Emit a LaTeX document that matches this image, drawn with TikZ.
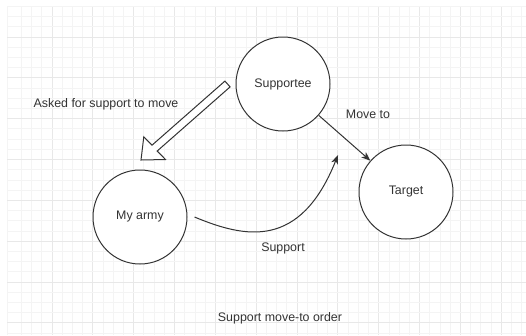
\documentclass[tikz,border=0pt]{standalone}
\usepackage{fontspec}
\setmainfont{Liberation Sans}
\usetikzlibrary{arrows.meta,calc}
\definecolor{ink}{HTML}{333333}
\definecolor{gridminor}{HTML}{F4F4F4}
\definecolor{gridmajor}{HTML}{E8E8E8}
\begin{document}
\begin{tikzpicture}[x=1pt,y=-1pt,
  every node/.style={font=\fontsize{12.4}{14}\selectfont, text=ink},
  circ/.style={draw=ink, line width=1pt, circle, minimum size=94pt, inner sep=0pt, fill=white},
  lbl/.style={inner sep=0pt},
  conn/.style={draw=ink, line width=1pt, -{Stealth[length=9pt,width=7pt,inset=2.5pt]}},
  hollow/.style={draw=ink, line width=1pt, fill=white, line join=miter}]
\useasboundingbox (0,0) rectangle (526,335);
\fill[white] (0,0) rectangle (526,335);
% grid
\foreach \k in {1,...,50}{
  \pgfmathsetmacro{\xx}{11.2+10.21*\k}
  \pgfmathtruncatemacro{\m}{mod(\k,4)}
  \ifnum\m=0 \draw[gridmajor, line width=0.9pt] (\xx,6) -- (\xx,335);
  \else \draw[gridminor, line width=0.9pt] (\xx,6) -- (\xx,335); \fi
}
\draw[gridminor, line width=0.9pt] (7,6) -- (7,335);
\foreach \k in {0,...,32}{
  \pgfmathsetmacro{\yy}{6.4+10.21*\k}
  \pgfmathtruncatemacro{\m}{mod(\k,4)}
  \ifnum\m=3 \draw[gridmajor, line width=0.9pt] (7,\yy) -- (526,\yy);
  \else \draw[gridminor, line width=0.9pt] (7,\yy) -- (526,\yy); \fi
}
% nodes
\node[circ] (sup) at (283,84) {Supportee};
\node[circ] (army) at (140,217) {My army};
\node[circ] (tgt) at (406,192) {Target};
% hollow arrow (flex arrow)
\draw[hollow] (224.9,81.1) -- (230.1,86.9) -- (157.2,151.0) -- (165.5,159.5)
  -- (141,160) -- (143.8,136.8) -- (152.0,145.2) -- cycle;
% connectors
\draw[conn] (sup) -- (tgt);
\coordinate (sEnd) at (338,155);
\draw[conn] ([xshift=7pt]army.east) .. controls (245,238) and (300,250) .. (sEnd);
% labels
\node[lbl] (asked) at (106,104) {Asked for support to move};
\node[lbl] (moveto) at (368,114) {Move to};
\node[lbl] (supp) at (283,248) {Support};
\node[lbl] (title) at (280,318) {Support move-to order};
\end{tikzpicture}
\end{document}
